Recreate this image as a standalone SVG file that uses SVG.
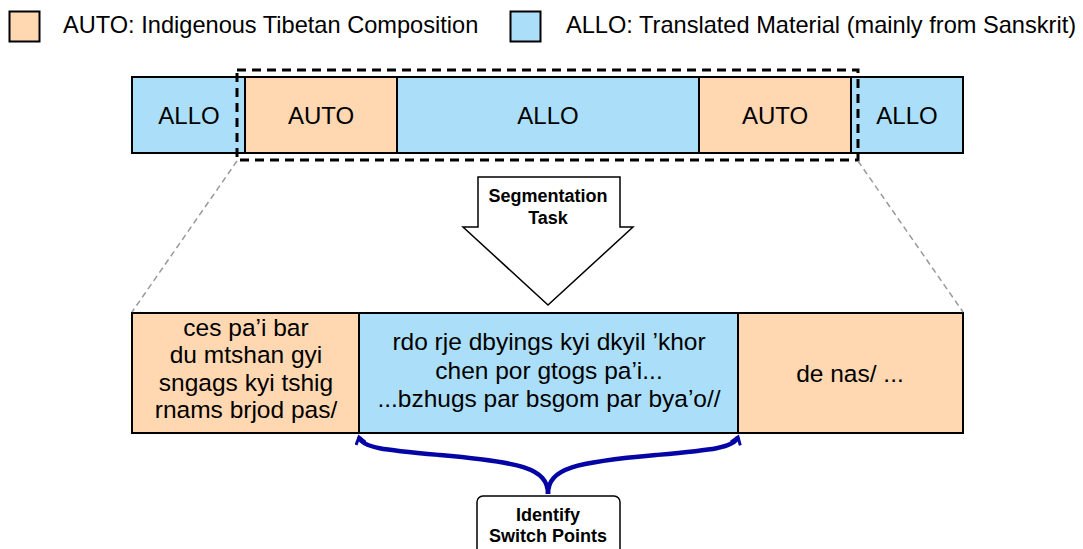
<svg xmlns="http://www.w3.org/2000/svg" width="1083" height="549" viewBox="0 0 1083 549">
<defs>
<style>
.auto{fill:#ffd7b1;stroke:#000;stroke-width:2}
.allo{fill:#abdff9;stroke:#000;stroke-width:2}
.t{font-family:"Liberation Sans",Arial,sans-serif;font-size:24px;fill:#000;text-anchor:middle}
.tb{font-family:"Liberation Sans",Arial,sans-serif;font-size:24.5px;fill:#000;text-anchor:middle}
.lg{font-family:"Liberation Sans",Arial,sans-serif;font-size:23.6px;fill:#000}
.b{font-family:"Liberation Sans",Arial,sans-serif;font-size:18px;font-weight:bold;fill:#000;text-anchor:middle}
.guide{fill:none;stroke:#999;stroke-width:1.5;stroke-dasharray:6 4}
.brace{fill:none;stroke:#0505a5;stroke-width:4.5}
</style>
<marker id="ah" viewBox="0 0 12 12" refX="9" refY="6" markerWidth="12" markerHeight="12" markerUnits="userSpaceOnUse" orient="auto">
<path d="M2,1 L9,6 L2,11" fill="none" stroke="#0505a5" stroke-width="3"/>
</marker>
</defs>
<rect width="1083" height="549" fill="#fff"/>
<g id="legend">
<rect class="auto" x="9.5" y="11.5" width="30" height="30"/>
<text class="lg" x="63" y="33">AUTO: Indigenous Tibetan Composition</text>
<rect class="allo" x="510.5" y="11.5" width="30" height="30"/>
<text class="lg" x="566" y="33">ALLO: Translated Material (mainly from Sanskrit)</text>
</g>
<g id="top-bar">
<g id="top-allo-1"><rect class="allo" x="132" y="77" width="113" height="76"/><text class="t" x="189" y="124">ALLO</text></g>
<g id="top-auto-1"><rect class="auto" x="245" y="77" width="152" height="76"/><text class="t" x="321" y="124">AUTO</text></g>
<g id="top-allo-2"><rect class="allo" x="397" y="77" width="302" height="76"/><text class="t" x="548" y="124">ALLO</text></g>
<g id="top-auto-2"><rect class="auto" x="699" y="77" width="152" height="76"/><text class="t" x="775" y="124">AUTO</text></g>
<g id="top-allo-3"><rect class="allo" x="851" y="77" width="112" height="76"/><text class="t" x="907" y="124">ALLO</text></g>
</g>
<g id="selection">
<rect x="237" y="70" width="621" height="90" fill="none" stroke="#000" stroke-width="3" stroke-dasharray="9 6"/>
</g>
<g id="segmentation-task">
<path d="M478,177 L620,177 L620,227 L633,227 L548,305 L463,227 L478,227 Z" fill="#fff" stroke="#000" stroke-width="1.5"/>
<text class="b" x="548" y="202">Segmentation</text>
<text class="b" x="548" y="224">Task</text>
</g>
<g id="bottom-bar">
<g id="bottom-auto-1"><rect class="auto" x="132" y="313" width="227" height="120"/>
<text class="tb" x="246" y="336">ces pa’i bar</text>
<text class="tb" x="246" y="363">du mtshan gyi</text>
<text class="tb" x="246" y="391">sngags kyi tshig</text>
<text class="tb" x="246" y="418">rnams brjod pas/</text></g>
<g id="bottom-allo"><rect class="allo" x="359" y="313" width="379" height="120"/>
<text class="tb" x="549" y="350">rdo rje dbyings kyi dkyil ’khor</text>
<text class="tb" x="549" y="379">chen por gtogs pa’i...</text>
<text class="tb" x="549" y="407">...bzhugs par bsgom par bya’o//</text></g>
<g id="bottom-auto-2"><rect class="auto" x="738" y="313" width="225" height="120"/>
<text class="tb" x="850" y="382">de nas/ ...</text></g>
</g>
<g id="identify">
<rect x="477" y="496" width="143" height="66" rx="6" fill="#fff" stroke="#000" stroke-width="1.5"/>
<text class="b" x="548" y="521">Identify</text>
<text class="b" x="548" y="542">Switch Points</text>
</g>
<g id="connectors">
<path class="guide" d="M237,161 L132,312"/>
<path class="guide" d="M858,161 L963,312"/>
<path class="brace" marker-end="url(#ah)" d="M548,494 C548,468 520,462 440,455 C385,450 362,448 359,437"/>
<path class="brace" marker-end="url(#ah)" d="M548,494 C548,468 576,462 656,455 C711,450 734,448 738,437"/>
</g>
</svg>
